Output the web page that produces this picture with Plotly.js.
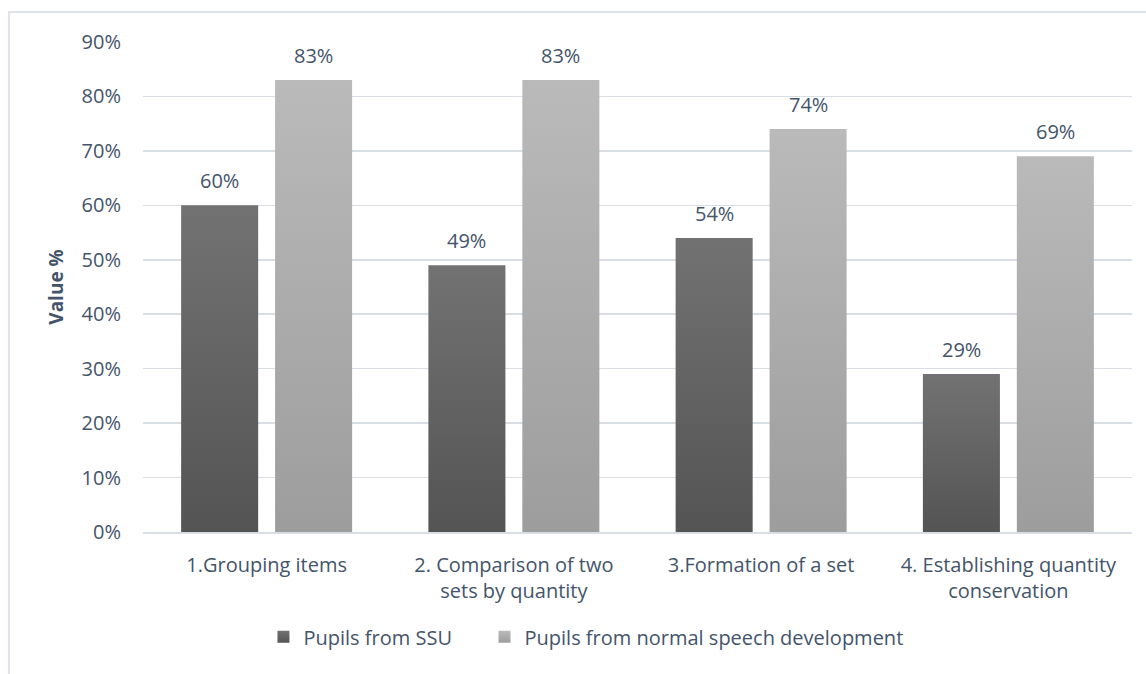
<!DOCTYPE html>
<html>
<head>
<meta charset="utf-8">
<script src="https://cdn.plot.ly/plotly-3.0.1.min.js"></script>
<style>
  html, body { margin: 0; padding: 0; background: #fff; overflow: hidden; }
  #frame { position: absolute; left: 8px; top: 11px; width: 1200px; height: 720px; border: 2px solid #dfe3e9; box-sizing: border-box; }
  #chart { position: absolute; left: 0; top: 0; width: 1146px; height: 674px; }
</style>
</head>
<body>
<div id="frame"></div>
<div id="chart"></div>
<script>
const categories = [
  "1.Grouping items",
  "2. Comparison of two<br>sets by quantity",
  "3.Formation of a set",
  "4. Establishing quantity<br>conservation"
];
const seriesNames = ["Pupils from SSU", "Pupils from normal speech development"];
const ssuValues = [0.60, 0.49, 0.54, 0.29];
const normalValues = [0.83, 0.83, 0.74, 0.69];
const valueLabels = [["60%", "49%", "54%", "29%"], ["83%", "83%", "74%", "69%"]];
const yTickVals = [0, 0.1, 0.2, 0.3, 0.4, 0.5, 0.6, 0.7, 0.8, 0.9];
const yTickText = ["0%", "10%", "20%", "30%", "40%", "50%", "60%", "70%", "80%", "90%"];

const textColor = "#44546A";
const font = "'Open Sans', 'Noto Sans', sans-serif";
const fs = 20;

const traces = [
  { type: "bar", name: seriesNames[0], x: categories, y: ssuValues, legend: "legend",
    marker: { color: "#636363" }, hoverinfo: "y" },
  { type: "bar", name: seriesNames[1], x: categories, y: normalValues, legend: "legend2",
    marker: { color: "#ababab" }, hoverinfo: "y" }
];

const annotations = [];
const series = [ssuValues, normalValues];
const shifts = [-47, 47];
series.forEach((vals, s) => {
  vals.forEach((v, i) => {
    annotations.push({
      x: categories[i], y: v, xref: "x", yref: "y",
      text: valueLabels[s][i], showarrow: false,
      xanchor: "center", yanchor: "middle", xshift: shifts[s], yshift: 25,
      font: { family: font, size: fs, color: textColor }
    });
  });
});

const legendBase = {
  orientation: "h", xanchor: "left", y: -0.214, yanchor: "middle",
  font: { family: font, size: fs, color: textColor },
  itemwidth: 30, bgcolor: "rgba(0,0,0,0)"
};

const layout = {
  width: 1146, height: 674,
  margin: { l: 143, r: 14, t: 42, b: 142 },
  paper_bgcolor: "rgba(0,0,0,0)",
  plot_bgcolor: "rgba(0,0,0,0)",
  barmode: "group",
  bargap: 0.24,
  bargroupgap: 0.18,
  font: { family: font, color: textColor, size: fs },
  xaxis: {
    type: "category",
    showgrid: false, zeroline: false,
    showline: true, linecolor: "#d9dde4", linewidth: 1.5,
    ticks: "", ticklabelstandoff: 14,
    tickfont: { family: font, size: fs, color: textColor }
  },
  yaxis: {
    range: [0, 0.9],
    tickvals: yTickVals, ticktext: yTickText,
    showgrid: true, gridcolor: "#d9dde4", gridwidth: 1.5,
    zeroline: false, showline: false, ticks: "",
    ticklabelstandoff: 21,
    tickfont: { family: font, size: fs, color: textColor },
    title: { text: "Value %", font: { family: font, size: 19, color: textColor, weight: "bold" }, standoff: 12 }
  },
  showlegend: true,
  legend: Object.assign({}, legendBase, { x: 0.1218 }),
  legend2: Object.assign({}, legendBase, { x: 0.3453 }),
  annotations: annotations
};

Plotly.newPlot("chart", traces, layout, { displayModeBar: false, staticPlot: true }).then(gd => {
  const svg = gd.querySelector("svg.main-svg");
  const ns = "http://www.w3.org/2000/svg";
  let defs = svg.querySelector("defs");
  if (!defs) { defs = document.createElementNS(ns, "defs"); svg.insertBefore(defs, svg.firstChild); }
  const grads = [["gDark", "#727272", "#545454"], ["gLight", "#bababa", "#9d9d9d"]];
  grads.forEach(([id, c1, c2]) => {
    const g = document.createElementNS(ns, "linearGradient");
    g.setAttribute("id", id);
    g.setAttribute("x1", "0"); g.setAttribute("y1", "0");
    g.setAttribute("x2", "0"); g.setAttribute("y2", "1");
    [[0, c1], [1, c2]].forEach(([o, c]) => {
      const st = document.createElementNS(ns, "stop");
      st.setAttribute("offset", o); st.setAttribute("stop-color", c);
      g.appendChild(st);
    });
    defs.appendChild(g);
  });
  const traceGroups = gd.querySelectorAll(".barlayer .trace");
  traceGroups.forEach((t, i) => {
    t.querySelectorAll("path").forEach(p => { p.style.fill = "url(#" + grads[i][0] + ")"; });
  });
  const legendGroups = [gd.querySelector(".legend"), gd.querySelector(".legend2")];
  legendGroups.forEach((lg, i) => {
    if (!lg) return;
    lg.querySelectorAll(".legendpoints path").forEach(p => { p.style.fill = "url(#" + grads[i][0] + ")"; });
  });
});
</script>
</body>
</html>
